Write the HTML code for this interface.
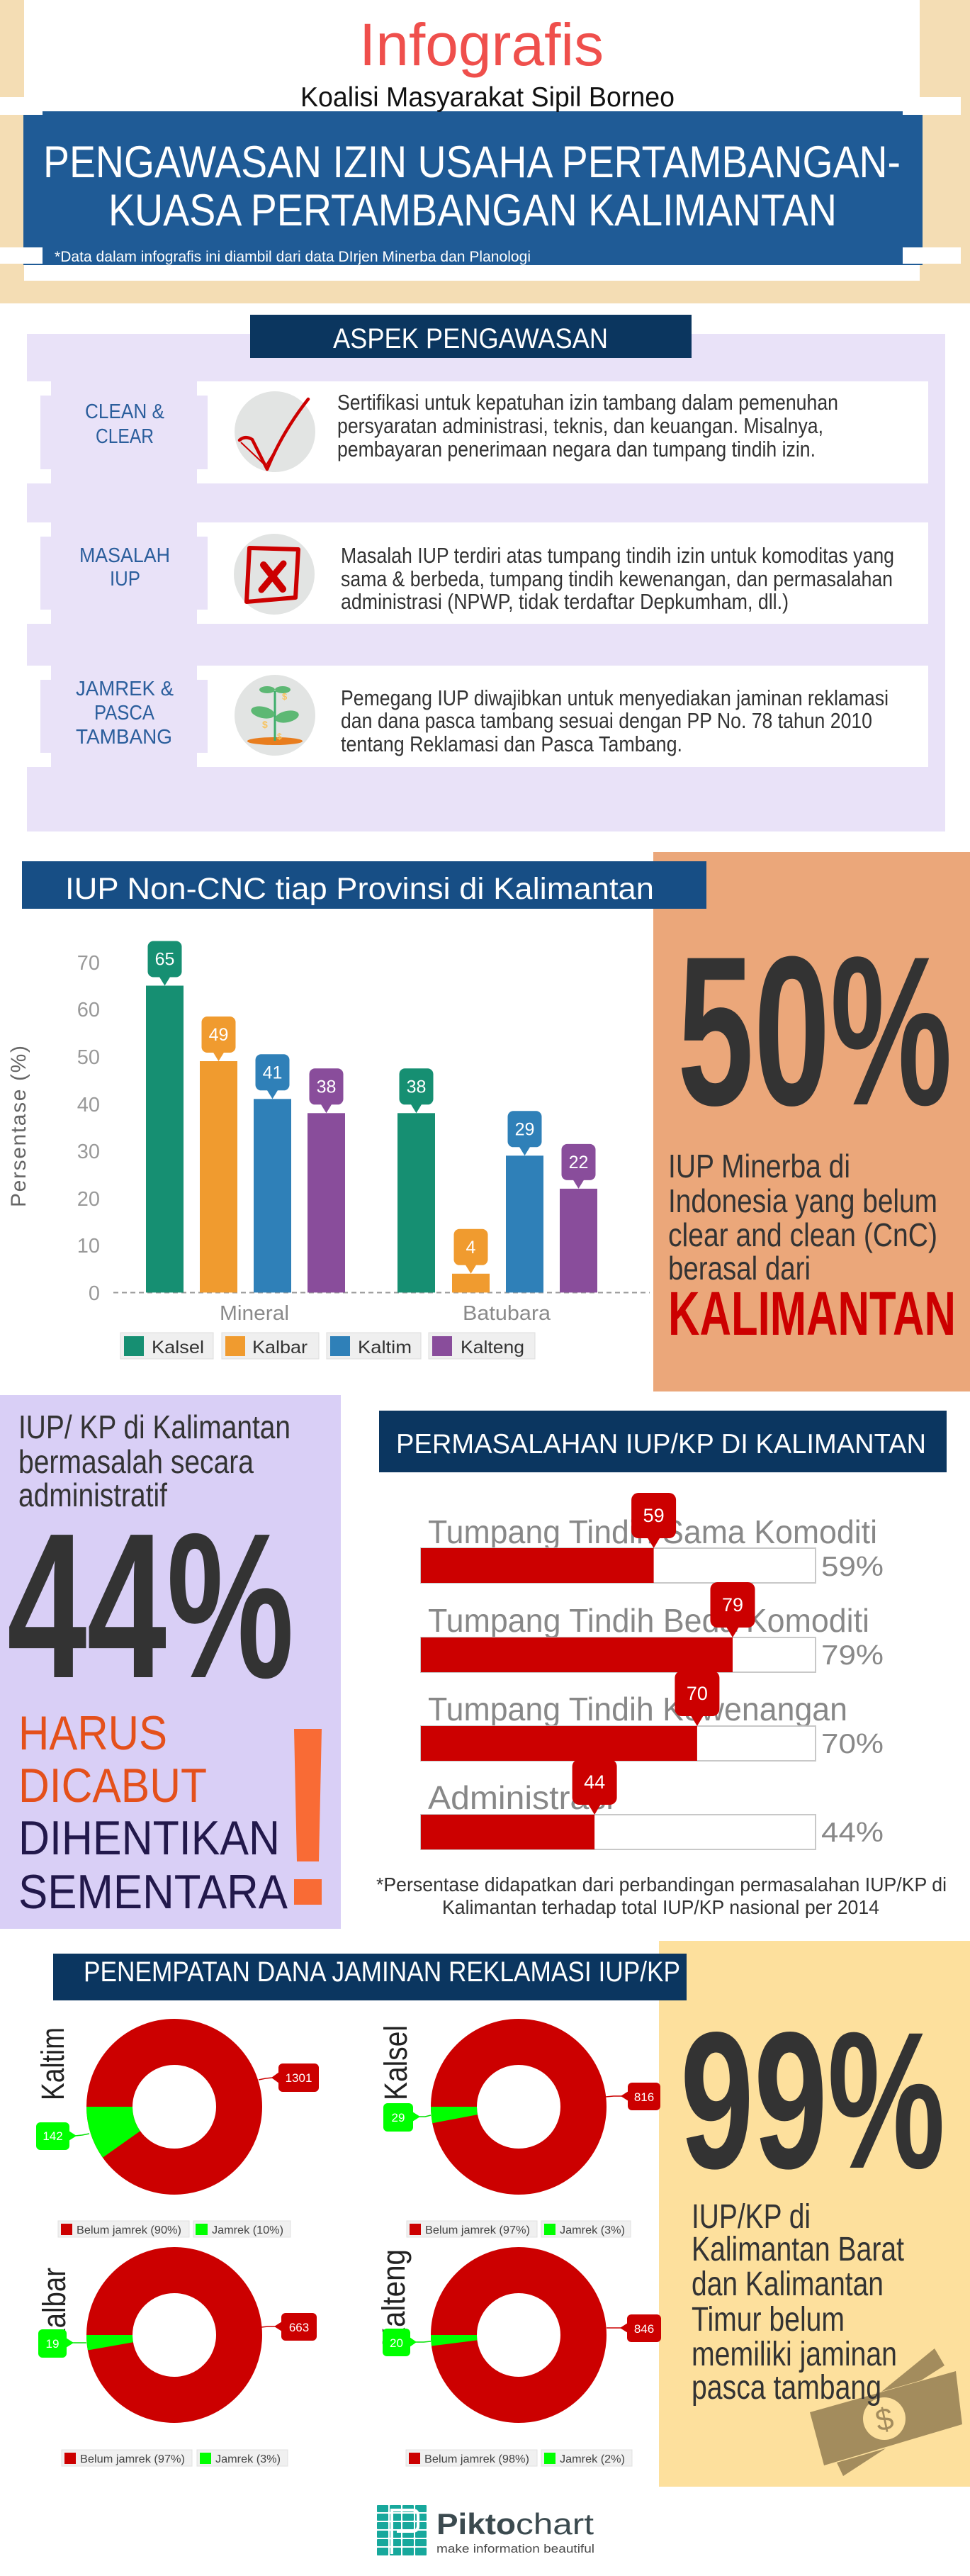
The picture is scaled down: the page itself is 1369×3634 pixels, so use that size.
<!DOCTYPE html>
<html><head><meta charset="utf-8">
<style>
html,body{margin:0;padding:0;background:#fff;}
svg{display:block;}
text{font-family:"Liberation Sans",Arial,sans-serif;}
</style></head><body>
<svg width="1369" height="3634" viewBox="0 0 1369 3634" xmlns="http://www.w3.org/2000/svg">
<rect width="1369" height="3634" fill="#fff"/>

<!-- ===== HEADER ===== -->
<rect x="0" y="0" width="1369" height="428" fill="#F4DDB4"/>
<rect x="34" y="0" width="1264" height="396" fill="#fff"/>
<rect x="0" y="137" width="1356" height="25" fill="#fff"/>
<rect x="33" y="162" width="1269" height="212" fill="#1F5B96"/>
<rect x="60" y="157" width="1214" height="6" fill="#1F5B96"/>
<rect x="0" y="349" width="60" height="23" fill="#fff"/>
<rect x="1274" y="349" width="82" height="23" fill="#fff"/>

<text x="507" y="92" font-size="84" fill="#EF4F4C" textLength="345" lengthAdjust="spacingAndGlyphs">Infografis</text>
<text x="424" y="150" font-size="39" fill="#111" textLength="528" lengthAdjust="spacingAndGlyphs">Koalisi Masyarakat Sipil Borneo</text>
<text x="61" y="250" font-size="63" fill="#fff" textLength="1210" lengthAdjust="spacingAndGlyphs">PENGAWASAN IZIN USAHA PERTAMBANGAN-</text>
<text x="153" y="318" font-size="63" fill="#fff" textLength="1028" lengthAdjust="spacingAndGlyphs">KUASA PERTAMBANGAN KALIMANTAN</text>
<text x="77" y="369" font-size="21" fill="#fff" textLength="672" lengthAdjust="spacingAndGlyphs">*Data dalam infografis ini diambil dari data DIrjen Minerba dan Planologi</text>

<!-- ===== ASPEK PENGAWASAN ===== -->
<rect x="38" y="471" width="1296" height="702" fill="#E9E2F8"/>
<rect x="353" y="444" width="623" height="61" fill="#0B365F"/>
<text x="470" y="491" font-size="40" fill="#fff" textLength="388" lengthAdjust="spacingAndGlyphs">ASPEK PENGAWASAN</text>

<!-- card 1 -->
<rect x="38" y="538" width="1272" height="144" fill="#fff"/>
<rect x="57" y="558" width="236" height="104" fill="#E9E2F8"/>
<rect x="72" y="538" width="206" height="144" fill="#E9E2F8"/>
<!-- card 2 -->
<rect x="38" y="737" width="1272" height="143" fill="#fff"/>
<rect x="57" y="757" width="236" height="103" fill="#E9E2F8"/>
<rect x="72" y="737" width="206" height="143" fill="#E9E2F8"/>
<!-- card 3 -->
<rect x="38" y="939" width="1272" height="143" fill="#fff"/>
<rect x="57" y="959" width="236" height="103" fill="#E9E2F8"/>
<rect x="72" y="939" width="206" height="143" fill="#E9E2F8"/>

<g fill="#2B5E9C" font-size="29" text-anchor="middle">
<text x="176" y="590" textLength="112" lengthAdjust="spacingAndGlyphs">CLEAN &amp;</text>
<text x="176" y="625" textLength="82" lengthAdjust="spacingAndGlyphs">CLEAR</text>
<text x="176" y="793" textLength="128" lengthAdjust="spacingAndGlyphs">MASALAH</text>
<text x="176.5" y="826" textLength="43" lengthAdjust="spacingAndGlyphs">IUP</text>
<text x="176" y="981" textLength="138" lengthAdjust="spacingAndGlyphs">JAMREK &amp;</text>
<text x="175.5" y="1015" textLength="85" lengthAdjust="spacingAndGlyphs">PASCA</text>
<text x="175" y="1049" textLength="136" lengthAdjust="spacingAndGlyphs">TAMBANG</text>
</g>

<!-- icons -->
<circle cx="388" cy="609" r="57" fill="#E2E4E3"/>
<path d="M338 621 Q346 614 356 620 L377 662 Q398 610 435 563" fill="none" stroke="#CC0000" stroke-width="4.5" stroke-linejoin="round" stroke-linecap="round"/>
<path d="M340 624 L375 657 L430 568" fill="none" stroke="#CC0000" stroke-width="2"/>

<circle cx="387" cy="810" r="57" fill="#E2E4E3"/>
<polygon points="352,773 421,775 417,843 348,849" fill="none" stroke="#CC0000" stroke-width="6" stroke-linejoin="round"/>
<line x1="372" y1="797" x2="399" y2="831" stroke="#CC0000" stroke-width="10" stroke-linecap="round"/>
<line x1="400" y1="795" x2="369" y2="832" stroke="#CC0000" stroke-width="9" stroke-linecap="round"/>

<circle cx="388" cy="1009" r="57" fill="#E2E4E3"/>
<ellipse cx="388" cy="1045.5" rx="39" ry="5.5" fill="#E87D1E"/>
<line x1="388" y1="975" x2="388" y2="1045" stroke="#3DAE6B" stroke-width="3"/>
<ellipse cx="377" cy="973" rx="11" ry="5" fill="#5DB874"/>
<ellipse cx="399" cy="973" rx="11" ry="5" fill="#5DB874"/>
<ellipse cx="371" cy="1005" rx="17" ry="8" fill="#5DB874" transform="rotate(12 371 1005)"/>
<ellipse cx="405" cy="1011" rx="17" ry="8" fill="#5DB874" transform="rotate(-12 405 1011)"/>
<text x="398" y="987" font-size="13" fill="#F7C35F" font-weight="bold">$</text>
<text x="370" y="1027" font-size="14" fill="#F7C35F" font-weight="bold">$</text>
<text x="391" y="1043" font-size="12" fill="#F7C35F" font-weight="bold">$</text>

<g fill="#333" font-size="31">
<text x="476" y="578" textLength="707" lengthAdjust="spacingAndGlyphs">Sertifikasi untuk kepatuhan izin tambang dalam pemenuhan</text>
<text x="476" y="611" textLength="686" lengthAdjust="spacingAndGlyphs">persyaratan administrasi, teknis, dan keuangan. Misalnya,</text>
<text x="476" y="644" textLength="675" lengthAdjust="spacingAndGlyphs">pembayaran penerimaan negara dan tumpang tindih izin.</text>
<text x="481" y="794" textLength="781" lengthAdjust="spacingAndGlyphs">Masalah IUP terdiri atas tumpang tindih izin untuk komoditas yang</text>
<text x="481" y="827" textLength="779" lengthAdjust="spacingAndGlyphs">sama &amp; berbeda, tumpang tindih kewenangan, dan permasalahan</text>
<text x="481" y="859" textLength="632" lengthAdjust="spacingAndGlyphs">administrasi (NPWP, tidak terdaftar Depkumham, dll.)</text>
<text x="481" y="995" textLength="773" lengthAdjust="spacingAndGlyphs">Pemegang IUP diwajibkan untuk menyediakan jaminan reklamasi</text>
<text x="481" y="1027" textLength="750" lengthAdjust="spacingAndGlyphs">dan dana pasca tambang sesuai dengan PP No. 78 tahun 2010</text>
<text x="481" y="1060" textLength="482" lengthAdjust="spacingAndGlyphs">tentang Reklamasi dan Pasca Tambang.</text>
</g>

<!-- ===== BAR CHART SECTION ===== -->
<rect x="922" y="1202" width="447" height="761" fill="#EBA77A"/>
<rect x="31" y="1215" width="966" height="67" fill="#174E85"/>
<text x="92" y="1268" font-size="43" fill="#fff" textLength="831" lengthAdjust="spacingAndGlyphs">IUP Non-CNC tiap Provinsi di Kalimantan</text>

<text x="956" y="1558" font-size="300" font-weight="bold" fill="#333" textLength="388" lengthAdjust="spacingAndGlyphs">50%</text>
<g fill="#333" font-size="46">
<text x="943" y="1661" textLength="257" lengthAdjust="spacingAndGlyphs">IUP Minerba di</text>
<text x="943" y="1710" textLength="380" lengthAdjust="spacingAndGlyphs">Indonesia yang belum</text>
<text x="943" y="1758" textLength="380" lengthAdjust="spacingAndGlyphs">clear and clean (CnC)</text>
<text x="943" y="1805" textLength="201" lengthAdjust="spacingAndGlyphs">berasal dari</text>
</g>
<text x="943" y="1883" font-size="87" font-weight="bold" fill="#CC0000" textLength="406" lengthAdjust="spacingAndGlyphs">KALIMANTAN</text>

<!-- axis -->
<g fill="#999" font-size="29" text-anchor="end">
<text x="141" y="1368">70</text>
<text x="141" y="1434">60</text>
<text x="141" y="1501">50</text>
<text x="141" y="1568">40</text>
<text x="141" y="1634">30</text>
<text x="141" y="1701">20</text>
<text x="141" y="1767">10</text>
<text x="141" y="1834">0</text>
</g>
<text x="36" y="1589" font-size="30" fill="#666" text-anchor="middle" transform="rotate(-90 36 1589)" textLength="228" lengthAdjust="spacing">Persentase (%)</text>
<line x1="160" y1="1823.5" x2="917" y2="1823.5" stroke="#999" stroke-width="2" stroke-dasharray="7,5"/>

<!-- bars -->
<rect x="206" y="1390.5" width="53" height="432.9" fill="#168F72"/>
<rect x="282" y="1497" width="53" height="326.4" fill="#F09B2F"/>
<rect x="358" y="1550.3" width="53" height="273.1" fill="#2F80B8"/>
<rect x="434" y="1570.3" width="53" height="253.1" fill="#894D9B"/>
<rect x="561" y="1570.3" width="53" height="253.1" fill="#168F72"/>
<rect x="638" y="1796.8" width="53" height="26.6" fill="#F09B2F"/>
<rect x="714" y="1630.3" width="53" height="193.1" fill="#2F80B8"/>
<rect x="790" y="1676.9" width="53" height="146.5" fill="#894D9B"/>

<!-- bar callouts -->
<g>
<rect x="208.5" y="1327.5" width="48" height="51" rx="8" fill="#168F72"/><polygon points="224.5,1377.5 240.5,1377.5 232.5,1390.5" fill="#168F72"/>
<rect x="284.5" y="1434" width="48" height="51" rx="8" fill="#F09B2F"/><polygon points="300.5,1484 316.5,1484 308.5,1497" fill="#F09B2F"/>
<rect x="360.5" y="1487.3" width="48" height="51" rx="8" fill="#2F80B8"/><polygon points="376.5,1537.3 392.5,1537.3 384.5,1550.3" fill="#2F80B8"/>
<rect x="436.5" y="1507.3" width="48" height="51" rx="8" fill="#894D9B"/><polygon points="452.5,1557.3 468.5,1557.3 460.5,1570.3" fill="#894D9B"/>
<rect x="563.5" y="1507.3" width="48" height="51" rx="8" fill="#168F72"/><polygon points="579.5,1557.3 595.5,1557.3 587.5,1570.3" fill="#168F72"/>
<rect x="640.5" y="1733.8" width="48" height="51" rx="8" fill="#F09B2F"/><polygon points="656.5,1783.8 672.5,1783.8 664.5,1796.8" fill="#F09B2F"/>
<rect x="716.5" y="1567.3" width="48" height="51" rx="8" fill="#2F80B8"/><polygon points="732.5,1617.3 748.5,1617.3 740.5,1630.3" fill="#2F80B8"/>
<rect x="792.5" y="1613.9" width="48" height="51" rx="8" fill="#894D9B"/><polygon points="808.5,1663.9 824.5,1663.9 816.5,1676.9" fill="#894D9B"/>
</g>
<g fill="#fff" font-size="25" text-anchor="middle">
<text x="232.5" y="1361.5">65</text>
<text x="308.5" y="1468">49</text>
<text x="384.5" y="1521.3">41</text>
<text x="460.5" y="1541.3">38</text>
<text x="587.5" y="1541.3">38</text>
<text x="664.5" y="1767.8">4</text>
<text x="740.5" y="1601.3">29</text>
<text x="816.5" y="1647.9">22</text>
</g>

<g fill="#8a8a8a" font-size="29" text-anchor="middle">
<text x="359" y="1862" textLength="98" lengthAdjust="spacingAndGlyphs">Mineral</text>
<text x="715" y="1862" textLength="124" lengthAdjust="spacingAndGlyphs">Batubara</text>
</g>

<!-- legend -->
<g stroke="#ddd" stroke-width="1" fill="#EFEFEF">
<rect x="170" y="1880" width="131" height="37"/>
<rect x="313" y="1880" width="137" height="37"/>
<rect x="461" y="1880" width="133" height="37"/>
<rect x="605" y="1880" width="150" height="37"/>
</g>
<rect x="175" y="1885" width="28" height="28" fill="#168F72"/>
<rect x="318" y="1885" width="28" height="28" fill="#F09B2F"/>
<rect x="466" y="1885" width="28" height="28" fill="#2F80B8"/>
<rect x="610" y="1885" width="28" height="28" fill="#894D9B"/>
<g fill="#333" font-size="25">
<text x="214" y="1909" textLength="74" lengthAdjust="spacingAndGlyphs">Kalsel</text>
<text x="356" y="1909" textLength="78" lengthAdjust="spacingAndGlyphs">Kalbar</text>
<text x="505" y="1909" textLength="76" lengthAdjust="spacingAndGlyphs">Kaltim</text>
<text x="650" y="1909" textLength="90" lengthAdjust="spacingAndGlyphs">Kalteng</text>
</g>

<!-- ===== 44% PANEL ===== -->
<rect x="0" y="1968" width="481" height="753" fill="#D9CFF6"/>
<g fill="#333" font-size="46">
<text x="26" y="2029" textLength="384" lengthAdjust="spacingAndGlyphs">IUP/ KP di Kalimantan</text>
<text x="26" y="2078" textLength="332" lengthAdjust="spacingAndGlyphs">bermasalah secara</text>
<text x="26" y="2125" textLength="210" lengthAdjust="spacingAndGlyphs">administratif</text>
</g>
<text x="10" y="2366" font-size="292" font-weight="bold" fill="#333" textLength="405" lengthAdjust="spacingAndGlyphs">44%</text>
<g font-size="68">
<text x="26" y="2468" fill="#E4501B" textLength="210" lengthAdjust="spacingAndGlyphs">HARUS</text>
<text x="26" y="2542" fill="#E4501B" textLength="266" lengthAdjust="spacingAndGlyphs">DICABUT</text>
<text x="26" y="2616" fill="#22184B" textLength="369" lengthAdjust="spacingAndGlyphs">DIHENTIKAN</text>
<text x="26" y="2692" fill="#22184B" textLength="380" lengthAdjust="spacingAndGlyphs">SEMENTARA</text>
</g>
<polygon points="415,2439 454,2439 450,2626 419,2626" fill="#F96B35"/>
<rect x="415" y="2651" width="39" height="36" fill="#F96B35"/>

<!-- ===== PERMASALAHAN ===== -->
<rect x="535" y="1990" width="801" height="87" fill="#0B3660"/>
<text x="559" y="2050" font-size="39" fill="#fff" textLength="748" lengthAdjust="spacingAndGlyphs">PERMASALAHAN IUP/KP DI KALIMANTAN</text>

<g fill="#888" font-size="46">
<text x="604" y="2177" textLength="634" lengthAdjust="spacingAndGlyphs">Tumpang Tindih Sama Komoditi</text>
<text x="604" y="2302" textLength="623" lengthAdjust="spacingAndGlyphs">Tumpang Tindih Beda Komoditi</text>
<text x="604" y="2427" textLength="592" lengthAdjust="spacingAndGlyphs">Tumpang Tindih Kewenangan</text>
<text x="604" y="2552" textLength="262" lengthAdjust="spacingAndGlyphs">Administrasi</text>
</g>
<g fill="#fff" stroke="#C8C8C8" stroke-width="2">
<rect x="594" y="2184" width="557" height="49"/>
<rect x="594" y="2310" width="557" height="49"/>
<rect x="594" y="2435" width="557" height="49"/>
<rect x="594" y="2560" width="557" height="49"/>
</g>
<g fill="#CC0000">
<rect x="594" y="2184" width="328.6" height="49"/>
<rect x="594" y="2310" width="440" height="49"/>
<rect x="594" y="2435" width="389.9" height="49"/>
<rect x="594" y="2560" width="245.1" height="49"/>
<rect x="891.1" y="2106" width="63" height="64" rx="10"/><polygon points="913.6,2169 931.6,2169 922.6,2184"/>
<rect x="1002.5" y="2232" width="63" height="64" rx="10"/><polygon points="1025,2295 1043,2295 1034,2310"/>
<rect x="952.4" y="2357" width="63" height="64" rx="10"/><polygon points="974.9,2420 992.9,2420 983.9,2435"/>
<rect x="807.6" y="2482" width="63" height="64" rx="10"/><polygon points="830.1,2545 848.1,2545 839.1,2560"/>
</g>
<g fill="#fff" font-size="27" text-anchor="middle">
<text x="922.6" y="2147">59</text>
<text x="1034" y="2273">79</text>
<text x="983.9" y="2398">70</text>
<text x="839.1" y="2523">44</text>
</g>
<g fill="#888" font-size="39">
<text x="1159" y="2223" textLength="88" lengthAdjust="spacingAndGlyphs">59%</text>
<text x="1159" y="2348" textLength="88" lengthAdjust="spacingAndGlyphs">79%</text>
<text x="1159" y="2473" textLength="88" lengthAdjust="spacingAndGlyphs">70%</text>
<text x="1159" y="2598" textLength="88" lengthAdjust="spacingAndGlyphs">44%</text>
</g>
<g fill="#333" font-size="28">
<text x="531" y="2668" textLength="805" lengthAdjust="spacingAndGlyphs">*Persentase didapatkan dari perbandingan permasalahan IUP/KP di</text>
<text x="624" y="2700" textLength="617" lengthAdjust="spacingAndGlyphs">Kalimantan terhadap total IUP/KP nasional per 2014</text>
</g>

<!-- ===== DONUT SECTION ===== -->
<rect x="930" y="2738" width="439" height="770" fill="#FDE09D"/>
<rect x="75" y="2756" width="894" height="66" fill="#0B3660"/>
<text x="118" y="2795" font-size="40" fill="#fff" textLength="842" lengthAdjust="spacingAndGlyphs">PENEMPATAN DANA JAMINAN REKLAMASI IUP/KP</text>

<text x="960" y="3058" font-size="275" font-weight="bold" fill="#333" textLength="374" lengthAdjust="spacingAndGlyphs">99%</text>

<!-- money icon -->
<polygon points="1244,3374 1319,3313 1333,3337 1300,3358" fill="#A38C5D"/>
<polygon points="1181,3474 1250,3454 1190,3493" fill="#A38C5D"/>
<polygon points="1143,3403 1349,3345 1358,3420 1163,3478" fill="#A38C5D"/>
<circle cx="1248" cy="3412" r="30" fill="#FDE09D"/>
<text x="1248" y="3428" font-size="44" fill="#A38C5D" text-anchor="middle" transform="rotate(-12 1248 3412)">$</text>

<g fill="#333" font-size="48">
<text x="976" y="3143" textLength="168" lengthAdjust="spacingAndGlyphs">IUP/KP di</text>
<text x="976" y="3189" textLength="300" lengthAdjust="spacingAndGlyphs">Kalimantan Barat</text>
<text x="976" y="3238" textLength="271" lengthAdjust="spacingAndGlyphs">dan Kalimantan</text>
<text x="976" y="3288" textLength="216" lengthAdjust="spacingAndGlyphs">Timur belum</text>
<text x="976" y="3337" textLength="290" lengthAdjust="spacingAndGlyphs">memiliki jaminan</text>
<text x="976" y="3384" textLength="268" lengthAdjust="spacingAndGlyphs">pasca tambang</text>
</g>

<!-- vertical labels -->
<g fill="#222" font-size="45">
<text x="90" y="2963" transform="rotate(-90 90 2963)" textLength="103" lengthAdjust="spacingAndGlyphs">Kaltim</text>
<text x="574" y="2963" transform="rotate(-90 574 2963)" textLength="106" lengthAdjust="spacingAndGlyphs">Kalsel</text>
<text x="92" y="3310" transform="rotate(-90 92 3310)" textLength="111" lengthAdjust="spacingAndGlyphs">Kalbar</text>
<text x="571" y="3310" transform="rotate(-90 571 3310)" textLength="137" lengthAdjust="spacingAndGlyphs">Kalteng</text>
</g>

<!-- donuts -->
<g fill="none" stroke="#CC0000" stroke-width="65">
<circle cx="246" cy="2972" r="91.5"/>
<circle cx="732" cy="2972" r="91.5"/>
<circle cx="246" cy="3294" r="91.5"/>
<circle cx="732" cy="3294" r="91.5"/>
</g>
<g fill="#00FF00">
<path d="M144.9 3043.8 A124 124 0 0 1 122 2972 L187 2972 A59 59 0 0 0 197.9 3006.2 Z"/>
<path d="M610.2 2995.2 A124 124 0 0 1 608 2972 L673 2972 A59 59 0 0 0 674 2983.1 Z"/>
<path d="M123.9 3315.5 A124 124 0 0 1 122 3294 L187 3294 A59 59 0 0 0 187.9 3304.2 Z"/>
<path d="M609 3309.5 A124 124 0 0 1 608 3294 L673 3294 A59 59 0 0 0 673.5 3301.4 Z"/>
</g>

<!-- donut callouts -->
<g stroke-width="1.5" fill="none">
<path d="M365 2934 L375 2932 L385 2931" stroke="#CC0000"/>
<path d="M126 3010 L116 3012 L106 3013" stroke="#00E000"/>
<path d="M855 2958 L866 2957 L878 2957" stroke="#CC0000"/>
<path d="M608 2984 L600 2986 L591 2986" stroke="#00E000"/>
<path d="M369 3283 L378 3282 L389 3282" stroke="#CC0000"/>
<path d="M122 3305 L112 3305 L102 3305" stroke="#00E000"/>
<path d="M856 3284 L866 3284 L877 3284" stroke="#CC0000"/>
<path d="M608 3303 L598 3304 L586 3304" stroke="#00E000"/>
</g>
<g fill="#CC0000">
<rect x="393" y="2911" width="57" height="40" rx="6"/><polygon points="394,2923 383,2931 394,2939"/>
<rect x="886" y="2938" width="46" height="39" rx="6"/><polygon points="887,2950 876,2957 887,2964"/>
<rect x="397" y="3263" width="50" height="39" rx="6"/><polygon points="398,3275 387,3282 398,3289"/>
<rect x="885" y="3265" width="48" height="39" rx="6"/><polygon points="886,3277 875,3284 886,3291"/>
</g>
<g fill="#00FF00">
<rect x="51" y="2994" width="47" height="39" rx="6"/><polygon points="97,3006 108,3013 97,3020"/>
<rect x="541" y="2967" width="42" height="40" rx="6"/><polygon points="582,2979 593,2986 582,2993"/>
<rect x="54" y="3286" width="40" height="40" rx="6"/><polygon points="93,3298 104,3305 93,3312"/>
<rect x="540" y="3285" width="39" height="39" rx="6"/><polygon points="578,3297 588,3304 578,3311"/>
</g>
<g fill="#fff" font-size="17" text-anchor="middle">
<text x="421.5" y="2937">1301</text>
<text x="74.5" y="3019">142</text>
<text x="909" y="2964">816</text>
<text x="562" y="2993">29</text>
<text x="422" y="3289">663</text>
<text x="74" y="3312">19</text>
<text x="909" y="3291">846</text>
<text x="559.5" y="3311">20</text>
</g>

<!-- donut legends -->
<g fill="#F0F0F0" stroke="#E0E0E0" stroke-width="1">
<rect x="82" y="3133" width="185" height="23"/>
<rect x="273" y="3133" width="137" height="23"/>
<rect x="574" y="3133" width="184" height="23"/>
<rect x="764" y="3133" width="126" height="23"/>
<rect x="87" y="3456" width="184" height="23"/>
<rect x="278" y="3456" width="128" height="23"/>
<rect x="573" y="3456" width="185" height="23"/>
<rect x="764" y="3456" width="128" height="23"/>
</g>
<g fill="#CC0000">
<rect x="86" y="3137" width="16" height="16"/>
<rect x="578" y="3137" width="16" height="16"/>
<rect x="91" y="3460" width="16" height="16"/>
<rect x="577" y="3460" width="16" height="16"/>
</g>
<g fill="#00FF00">
<rect x="276" y="3137" width="17" height="16"/>
<rect x="768" y="3137" width="16" height="16"/>
<rect x="282" y="3460" width="16" height="16"/>
<rect x="768" y="3460" width="16" height="16"/>
</g>
<g fill="#444" font-size="16">
<text x="108" y="3151" textLength="148" lengthAdjust="spacingAndGlyphs">Belum jamrek (90%)</text>
<text x="299" y="3151" textLength="101" lengthAdjust="spacingAndGlyphs">Jamrek (10%)</text>
<text x="600" y="3151" textLength="148" lengthAdjust="spacingAndGlyphs">Belum jamrek (97%)</text>
<text x="790" y="3151" textLength="92" lengthAdjust="spacingAndGlyphs">Jamrek (3%)</text>
<text x="113" y="3474" textLength="148" lengthAdjust="spacingAndGlyphs">Belum jamrek (97%)</text>
<text x="304" y="3474" textLength="92" lengthAdjust="spacingAndGlyphs">Jamrek (3%)</text>
<text x="599" y="3474" textLength="148" lengthAdjust="spacingAndGlyphs">Belum jamrek (98%)</text>
<text x="790" y="3474" textLength="92" lengthAdjust="spacingAndGlyphs">Jamrek (2%)</text>
</g>

<!-- ===== FOOTER LOGO ===== -->
<g fill="#17A89C">
<rect x="532" y="3534" width="16" height="10" rx="1"/><rect x="550" y="3534" width="16" height="10" rx="1"/><rect x="568" y="3534" width="16" height="10" rx="1"/><rect x="586" y="3534" width="16" height="10" rx="1"/>
<rect x="532" y="3546" width="16" height="10" rx="1"/><rect x="550" y="3546" width="16" height="10" rx="1"/><rect x="568" y="3546" width="16" height="10" rx="1"/><rect x="586" y="3546" width="16" height="10" rx="1"/>
<rect x="532" y="3558" width="16" height="10" rx="1"/><rect x="550" y="3558" width="16" height="10" rx="1"/><rect x="568" y="3558" width="16" height="10" rx="1"/><rect x="586" y="3558" width="16" height="10" rx="1"/>
<rect x="532" y="3570" width="16" height="10" rx="1"/><rect x="550" y="3570" width="16" height="10" rx="1"/><rect x="568" y="3570" width="16" height="10" rx="1"/><rect x="586" y="3570" width="16" height="10" rx="1"/>
<rect x="532" y="3582" width="16" height="10" rx="1"/><rect x="550" y="3582" width="16" height="10" rx="1"/><rect x="568" y="3582" width="16" height="10" rx="1"/><rect x="586" y="3582" width="16" height="10" rx="1"/>
<rect x="532" y="3594" width="16" height="11" rx="1"/><rect x="550" y="3594" width="16" height="11" rx="1"/><rect x="568" y="3594" width="16" height="11" rx="1"/><rect x="586" y="3594" width="16" height="11" rx="1"/>
</g>
<path d="M553 3603 L553 3541 L582 3541 Q590 3541 590 3549 L590 3563 Q590 3571 582 3571 L560 3571" fill="none" stroke="#fff" stroke-width="4"/>
<text x="616" y="3575" font-size="42" font-weight="bold" fill="#3B4A4F" textLength="112" lengthAdjust="spacingAndGlyphs">Pikto</text>
<text x="728" y="3575" font-size="42" fill="#3B4A4F" textLength="110" lengthAdjust="spacingAndGlyphs">chart</text>
<text x="616" y="3601" font-size="17" fill="#4A4A4A" textLength="223" lengthAdjust="spacingAndGlyphs">make information beautiful</text>
</svg>
</body></html>
